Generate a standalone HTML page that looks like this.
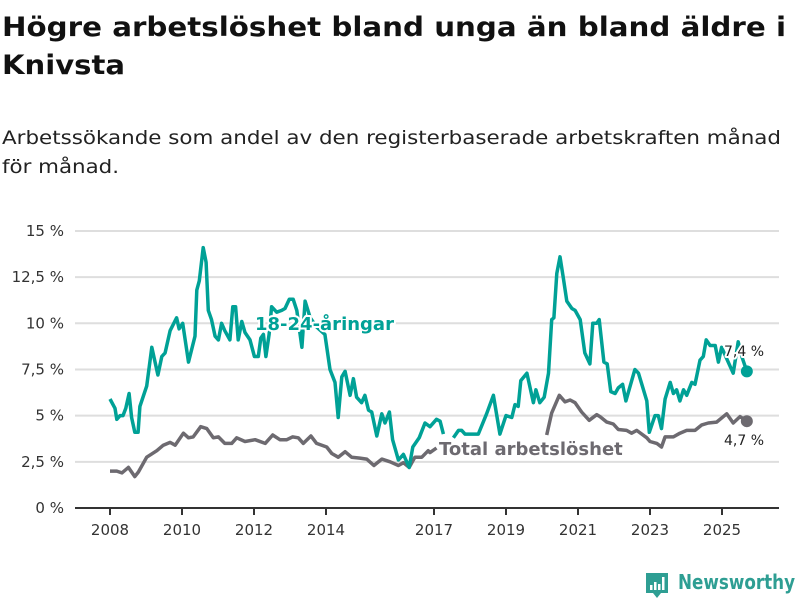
<!DOCTYPE html>
<html><head><meta charset="utf-8"><style>
html,body{margin:0;padding:0;background:#fff;}
svg{display:block;font-family:"DejaVu Sans","Liberation Sans",sans-serif;}
</style></head><body>
<svg id="chart" width="800" height="600" viewBox="0 0 800 600" xmlns="http://www.w3.org/2000/svg">
<text x="2" y="36" font-size="27" font-weight="bold" fill="#111" textLength="784" lengthAdjust="spacingAndGlyphs">Högre arbetslöshet bland unga än bland äldre i</text>
<text x="2" y="74" font-size="27" font-weight="bold" fill="#111" textLength="123" lengthAdjust="spacingAndGlyphs">Knivsta</text>
<text x="2" y="144" font-size="19" fill="#222" textLength="779" lengthAdjust="spacingAndGlyphs">Arbetssökande som andel av den registerbaserade arbetskraften månad</text>
<text x="2" y="173" font-size="19" fill="#222" textLength="117" lengthAdjust="spacingAndGlyphs">för månad.</text>
<g id="grid"></g><g id="xaxis"></g><g id="series"></g><g id="labels"></g>
<g>
<path d="M646 573 h22 v20 h-7 l-4 5 l-4 -5 h-7 z" fill="#2e9e93"/>
<rect x="650" y="585" width="2.5" height="5" fill="#fff"/><rect x="654" y="582" width="2.5" height="8" fill="#fff"/><rect x="658" y="584" width="2.5" height="6" fill="#fff"/><rect x="662" y="577" width="2.5" height="13" fill="#fff"/>
<text x="678" y="589" font-size="20" font-weight="bold" fill="#2e9e93" textLength="117" lengthAdjust="spacingAndGlyphs">Newsworthy</text>
</g>
</svg>
<script>
const yTicks=[0,2.5,5,7.5,10,12.5,15];
const yTickLabels=["0 %","2,5 %","5 %","7,5 %","10 %","12,5 %","15 %"];
const xTicks=[2008,2010,2012,2014,2017,2019,2021,2023,2025];
const youngDates=[2008.00,2008.14,2008.19,2008.28,2008.36,2008.44,2008.53,2008.60,2008.69,2008.78,2008.83,2009.02,2009.16,2009.33,2009.44,2009.53,2009.67,2009.85,2009.92,2010.02,2010.18,2010.36,2010.41,2010.48,2010.59,2010.67,2010.73,2010.82,2010.92,2011.01,2011.10,2011.19,2011.33,2011.41,2011.49,2011.56,2011.66,2011.75,2011.89,2012.01,2012.12,2012.19,2012.26,2012.33,2012.42,2012.49,2012.63,2012.77,2012.86,2012.98,2013.09,2013.19,2013.33,2013.42,2013.56,2013.74,2013.97,2014.11,2014.25,2014.34,2014.44,2014.53,2014.67,2014.76,2014.85,2014.99,2015.08,2015.18,2015.27,2015.41,2015.55,2015.64,2015.76,2015.85,2016.01,2016.15,2016.31,2016.41,2016.59,2016.75,2016.89,2017.07,2017.17,2017.26,2017.40,2017.54,2017.68,2017.77,2017.86,2017.95,2018.23,2018.46,2018.65,2018.83,2019.00,2019.16,2019.25,2019.34,2019.41,2019.58,2019.76,2019.83,2019.94,2020.06,2020.18,2020.27,2020.33,2020.41,2020.50,2020.59,2020.69,2020.83,2020.92,2021.06,2021.19,2021.33,2021.41,2021.52,2021.59,2021.72,2021.81,2021.91,2022.03,2022.12,2022.24,2022.33,2022.58,2022.68,2022.91,2022.98,2023.14,2023.23,2023.32,2023.42,2023.56,2023.65,2023.74,2023.83,2023.93,2024.02,2024.16,2024.25,2024.39,2024.48,2024.56,2024.67,2024.81,2024.90,2024.99,2025.31,2025.45,2025.55,2025.69];
const youngValues=[5.9,5.4,4.8,5.0,5.0,5.4,6.2,4.9,4.1,4.1,5.5,6.6,8.7,7.2,8.2,8.4,9.6,10.3,9.7,10.0,7.9,9.3,11.8,12.3,14.1,13.3,10.7,10.2,9.3,9.1,10.0,9.6,9.1,10.9,10.9,9.1,10.1,9.5,9.1,8.2,8.2,9.2,9.4,8.2,9.4,10.9,10.6,10.7,10.8,11.3,11.3,10.7,8.7,11.2,10.3,9.8,9.4,7.5,6.8,4.9,7.1,7.4,6.1,7.0,6.0,5.7,6.1,5.3,5.2,3.9,5.1,4.6,5.2,3.7,2.6,2.9,2.2,3.3,3.8,4.6,4.4,4.8,4.7,4.0,null,3.8,4.2,4.2,4.0,4.0,4.0,5.1,6.1,4.0,5.0,4.9,5.6,5.5,6.9,7.3,5.7,6.4,5.7,6.0,7.3,10.2,10.3,12.7,13.6,12.5,11.2,10.8,10.7,10.2,8.4,7.8,10.0,10.0,10.2,7.9,7.8,6.3,6.2,6.5,6.7,5.8,7.5,7.3,5.8,4.1,5.0,5.0,4.3,5.9,6.8,6.2,6.4,5.8,6.4,6.1,6.8,6.7,8.0,8.2,9.1,8.8,8.8,7.9,8.7,7.3,9.0,8.2,7.4];
const totalDates=[2008.00,2008.19,2008.33,2008.51,2008.69,2008.79,2009.02,2009.30,2009.48,2009.67,2009.81,2010.04,2010.18,2010.31,2010.52,2010.69,2010.87,2011.01,2011.19,2011.38,2011.52,2011.75,2012.03,2012.31,2012.52,2012.72,2012.91,2013.07,2013.23,2013.37,2013.58,2013.74,2014.02,2014.16,2014.34,2014.53,2014.71,2014.94,2015.13,2015.33,2015.55,2015.78,2016.01,2016.15,2016.31,2016.47,2016.66,2016.84,2016.89,2017.07,2018.5,2020.13,2020.27,2020.48,2020.64,2020.78,2020.92,2021.10,2021.31,2021.52,2021.61,2021.80,2021.98,2022.12,2022.35,2022.49,2022.63,2022.91,2023.00,2023.19,2023.32,2023.42,2023.65,2023.83,2024.02,2024.25,2024.44,2024.62,2024.85,2025.13,2025.31,2025.50,2025.69];
const totalValues=[2.0,2.0,1.9,2.2,1.7,1.95,2.75,3.1,3.4,3.55,3.4,4.05,3.8,3.85,4.4,4.3,3.8,3.85,3.5,3.5,3.8,3.6,3.7,3.5,3.95,3.7,3.7,3.85,3.8,3.5,3.9,3.5,3.3,2.95,2.75,3.05,2.75,2.7,2.65,2.3,2.65,2.5,2.3,2.45,2.2,2.75,2.75,3.1,3.0,3.25,null,3.95,5.15,6.1,5.75,5.85,5.7,5.2,4.75,5.05,4.95,4.65,4.55,4.25,4.2,4.05,4.2,3.8,3.6,3.5,3.3,3.85,3.85,4.05,4.2,4.2,4.5,4.6,4.65,5.1,4.6,4.95,4.7];
const NS='http://www.w3.org/2000/svg';
const X0=110,PXY=36,Y0=508,PXV=18.47;
function xs(d){return X0+(d-2008)*PXY;}
function ys(v){return Y0-v*PXV;}
function mk(tag,attrs,parent){const e=document.createElementNS(NS,tag);for(const k in attrs)e.setAttribute(k,attrs[k]);parent.appendChild(e);return e;}
const grid=document.getElementById('grid');
yTicks.forEach((t,i)=>{
  if(t>0){const l=mk('line',{x1:75,x2:779,y1:ys(t),y2:ys(t),stroke:'#dedede','stroke-width':2},grid);
  
  }
  const tx=mk('text',{x:64,y:ys(t)+5,'text-anchor':'end','font-size':15,fill:'#333'},grid);
  tx.textContent=yTickLabels[i];
  
  
});
const xa=document.getElementById('xaxis');
const ax=mk('line',{x1:75,x2:779,y1:Y0,y2:Y0,stroke:'#333','stroke-width':2},xa);


xTicks.forEach(t=>{
  const tk=mk('line',{x1:xs(t),x2:xs(t),y1:Y0,y2:Y0+7,stroke:'#333','stroke-width':2},xa);
  
  
  const tx=mk('text',{x:xs(t),y:535,'text-anchor':'middle','font-size':15,fill:'#333'},xa);
  tx.textContent=t;
  
  
});
function pathFor(dates,vals){let d='',pen=false;dates.forEach((dt,i)=>{const v=vals[i];if(v===null||v===undefined){pen=false;return;}d+=(pen?'L':'M')+xs(dt).toFixed(1)+' '+ys(v).toFixed(1)+' ';pen=true;});return d;}
const sg=document.getElementById('series');
const pt=mk('path',{d:pathFor(totalDates,totalValues),fill:'none',stroke:'#6d6a70','stroke-width':3.5,'stroke-linejoin':'round'},sg);


const py=mk('path',{d:pathFor(youngDates,youngValues),fill:'none',stroke:'#00a196','stroke-width':3.5,'stroke-linejoin':'round'},sg);


const lt=totalDates.length-1,ly=youngDates.length-1;
const dt=mk('circle',{cx:xs(totalDates[lt]),cy:ys(totalValues[lt]),r:6,fill:'#6d6a70'},sg);


const dy=mk('circle',{cx:xs(youngDates[ly]),cy:ys(youngValues[ly]),r:6,fill:'#00a196'},sg);


const lg=document.getElementById('labels');
function lab(txt,x,y,size,weight,color,name){
  const h=mk('text',{x:x,y:y,'font-size':size,'font-weight':weight,fill:'none',stroke:'#fff','stroke-width':4,'stroke-linejoin':'round'},lg);h.textContent=txt;
  
  
  const t=mk('text',{x:x,y:y,'font-size':size,'font-weight':weight,fill:color},lg);t.textContent=txt;
  
  
}
lab('18-24-åringar',255,330,18,'bold','#00a196','young-series-label');
lab('Total arbetslöshet',439,455,18,'bold','#6d6a70','total-series-label');
lab('7,4 %',724,356,14,'normal','#222','young-last-value');
lab('4,7 %',724,445,14,'normal','#222','total-last-value');
</script>
</body></html>
